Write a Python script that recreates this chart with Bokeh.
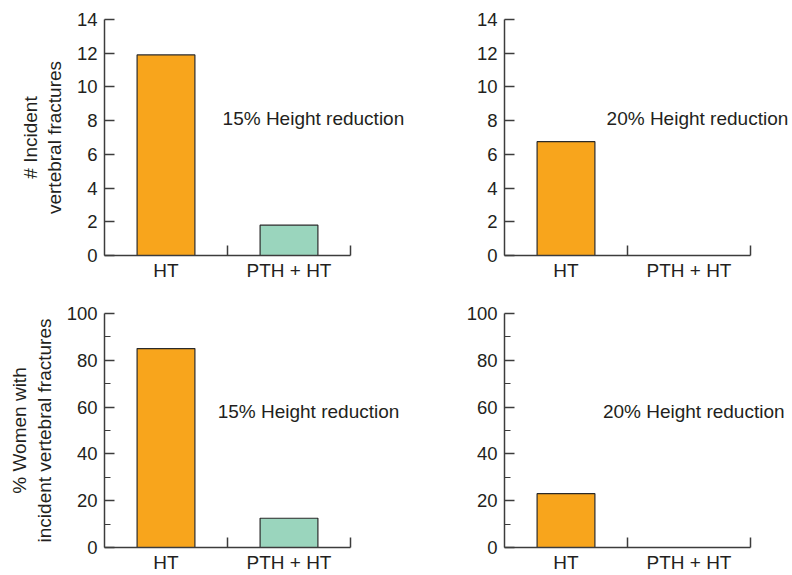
from bokeh.plotting import figure
from bokeh.layouts import column, row
from bokeh.models import Range1d, FixedTicker, ColumnDataSource
from bokeh.embed import file_html
from bokeh.resources import INLINE
from bokeh.core.properties import value

# ---- data ----
categories = ["HT", "PTH + HT"]
count_15 = [11.9, 1.8]
count_20 = [6.75, 0]
pct_15 = [85, 12.5]
pct_20 = [23, 0]
count_ticks = [0, 2, 4, 6, 8, 10, 12, 14]
pct_ticks = [0, 20, 40, 60, 80, 100]
pct_minor = [10, 30, 50, 70, 90]
notes = ["15% Height reduction", "20% Height reduction"]
bar_colors = ["#F8A51C", "#9AD5BD"]

TXT = "#231f20"
AX = "#3c3c3c"
FONT = "Liberation Sans"
PX_PER_CAT = 123.0


def make(vals, yticks, yminor, note, note_x, note_y, ylabel, width, height, left, top, bottom):
    frame_w = width - left
    p = figure(width=width, height=height, output_backend="svg", toolbar_location=None,
               x_range=Range1d(0, frame_w / PX_PER_CAT), y_range=Range1d(yticks[0], yticks[-1]),
               min_border_left=left, min_border_right=0, min_border_top=top, min_border_bottom=bottom)
    p.outline_line_color = None
    p.xgrid.visible = False
    p.ygrid.visible = False
    src = ColumnDataSource(dict(x=[i + 0.5 for i in range(len(categories))], top=vals, color=bar_colors))
    p.vbar(x="x", top="top", bottom=0, width=0.47, fill_color="color", line_color="#2a2a2a",
           line_width=1.2, source=src)
    p.text(x=[note_x], y=[note_y], text=[note], text_font=value(FONT), text_font_size="19px",
           text_color=TXT, text_align="left", text_baseline="middle")

    xa = p.xaxis[0]
    xa.bounds = (0, len(categories))
    xa.ticker = FixedTicker(ticks=[i + 0.5 for i in range(len(categories))],
                            minor_ticks=list(range(1, len(categories) + 1)))
    xa.major_label_overrides = {i + 0.5: c for i, c in enumerate(categories)}
    xa.major_tick_line_color = None
    xa.major_tick_out = 0
    xa.major_tick_in = 0
    xa.minor_tick_in = 10
    xa.minor_tick_out = 0
    xa.minor_tick_line_color = AX
    xa.minor_tick_line_width = 1.5
    xa.major_label_standoff = 4
    xa.major_label_text_font = FONT
    xa.major_label_text_font_size = "19px"
    xa.major_label_text_color = TXT
    xa.axis_line_color = AX
    xa.axis_line_width = 1.5

    ya = p.yaxis[0]
    ya.ticker = FixedTicker(ticks=yticks, minor_ticks=yminor)
    ya.major_tick_in = 10
    ya.major_tick_out = 0
    ya.minor_tick_in = 6
    ya.minor_tick_out = 0
    ya.major_tick_line_color = AX
    ya.minor_tick_line_color = AX
    ya.major_tick_line_width = 1.5
    ya.minor_tick_line_width = 1.2
    ya.axis_line_color = AX
    ya.axis_line_width = 1.5
    ya.major_label_standoff = 7
    ya.major_label_text_font = FONT
    ya.major_label_text_font_size = "18.5px"
    ya.major_label_text_color = TXT
    if ylabel:
        ya.axis_label = ylabel
        ya.axis_label_text_font = FONT
        ya.axis_label_text_font_size = "19px"
        ya.axis_label_text_font_style = "normal"
        ya.axis_label_text_color = TXT
        ya.axis_label_text_line_height = 1.15
        ya.axis_label_standoff = 9
    return p


p1 = make(count_15, count_ticks, [], notes[0], 0.96, 8.1, "# Incident\nvertebral fractures", 408, 285, 104, 19, 30)
p2 = make(count_20, count_ticks, [], notes[1], 0.83, 8.1, None, 384, 285, 96, 19, 30)
p3 = make(pct_15, pct_ticks, pct_minor, notes[0], 0.92, 58.3, "% Women with\nincident vertebral fractures", 408, 290, 104, 28, 27)
p4 = make(pct_20, pct_ticks, pct_minor, notes[1], 0.80, 58.0, None, 384, 290, 96, 28, 27)

layout = column(row(p1, p2), row(p3, p4))
open("out.html", "w").write(file_html(layout, INLINE))
